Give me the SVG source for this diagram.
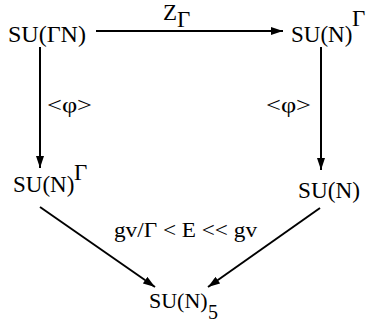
<svg xmlns="http://www.w3.org/2000/svg" width="366" height="326" viewBox="0 0 366 326">
<style>
text{font-family:'Liberation Serif','Times New Roman','DejaVu Serif',serif;fill:#000}
.n{font-size:23px}
.l{font-size:21px}
.s{font-size:20px}
.c{stroke:#000;stroke-width:2;fill:none}
</style>
<defs>
<marker id="ah" viewBox="0 0 12 8" refX="12" refY="4" markerWidth="12" markerHeight="8" markerUnits="userSpaceOnUse" orient="auto">
<path d="M0,0 L12,4 L0,8 Z" fill="#000"/>
</marker>
</defs>
<g id="connectors">
<line class="c" x1="96" y1="31" x2="283" y2="31" marker-end="url(#ah)"/>
<line class="c" x1="40" y1="47" x2="40" y2="168" marker-end="url(#ah)"/>
<line class="c" x1="321" y1="47" x2="321" y2="170" marker-end="url(#ah)"/>
<line class="c" x1="40" y1="207" x2="155" y2="287" marker-end="url(#ah)"/>
<line class="c" x1="320" y1="208" x2="208" y2="287" marker-end="url(#ah)"/>
<text class="n" y="20"><tspan x="163">Z</tspan><tspan x="177" y="27">Γ</tspan></text>
<text class="l" x="47" y="112" textLength="45" lengthAdjust="spacingAndGlyphs">&lt;φ&gt;</text>
<text class="l" x="266" y="112" textLength="45" lengthAdjust="spacingAndGlyphs">&lt;φ&gt;</text>
<text class="s" x="114" y="237" textLength="143" lengthAdjust="spacingAndGlyphs">gv/Γ &lt; E &lt;&lt; gv</text>
</g>
<g id="n1"><text class="n" x="8" y="42" textLength="78" lengthAdjust="spacingAndGlyphs">SU(ΓN)</text></g>
<g id="n2"><text class="n" y="42"><tspan x="291">SU(N)</tspan><tspan x="352" y="26">Γ</tspan></text></g>
<g id="n3"><text class="n" y="192"><tspan x="13">SU(N)</tspan><tspan x="74" y="180">Γ</tspan></text></g>
<g id="n4"><text class="n" x="298" y="198" textLength="62" lengthAdjust="spacingAndGlyphs">SU(N)</text></g>
<g id="n5"><text class="n" y="308" style="font-size:22px"><tspan x="149">SU(N)</tspan><tspan class="s" x="208" y="319">5</tspan></text></g>
</svg>
